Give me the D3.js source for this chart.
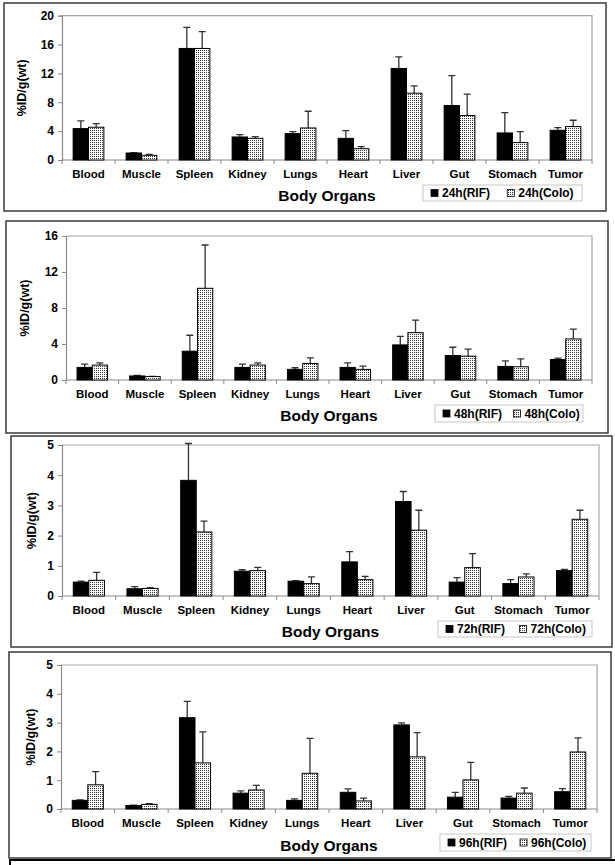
<!DOCTYPE html>
<html><head><meta charset="utf-8">
<script src="https://cdn.jsdelivr.net/npm/d3@7"></script>
<style>
html,body{margin:0;padding:0;background:#fff;}
svg{display:block;}
text{font-family:"Liberation Sans",Arial,sans-serif;font-weight:bold;fill:#000;}
</style></head>
<body>
<svg id="chart" width="615" height="865"></svg>
<script>
// ---- data ----
const categories = ["Blood","Muscle","Spleen","Kidney","Lungs","Heart","Liver","Gut","Stomach","Tumor"];

const rif24     = [4.35, 0.97, 15.46, 3.19, 3.66, 3.00, 12.69, 7.55, 3.75, 4.12];
const rif24Err  = [1.07, 0.05, 2.92, 0.33, 0.28, 1.07, 1.61, 4.15, 2.82, 0.37];
const colo24    = [4.54, 0.65, 15.46, 3.00, 4.44, 1.57, 9.26, 6.16, 2.41, 4.63];
const colo24Err = [0.51, 0.14, 2.32, 0.24, 2.32, 0.28, 1.02, 2.96, 1.53, 0.88];

const rif48     = [1.40, 0.45, 3.20, 1.40, 1.18, 1.40, 3.90, 2.72, 1.51, 2.28];
const rif48Err  = [0.37, 0.07, 1.77, 0.37, 0.18, 0.51, 0.95, 0.92, 0.62, 0.15];
const colo48    = [1.66, 0.38, 10.19, 1.66, 1.84, 1.18, 5.26, 2.65, 1.47, 4.56];
const colo48Err = [0.25, 0.02, 4.81, 0.25, 0.62, 0.36, 1.40, 0.77, 0.88, 1.10];

const rif72     = [0.46, 0.24, 3.83, 0.82, 0.49, 1.13, 3.13, 0.46, 0.41, 0.84];
const rif72Err  = [0.03, 0.07, 1.22, 0.05, 0.02, 0.34, 0.33, 0.15, 0.13, 0.04];
const colo72    = [0.52, 0.25, 2.12, 0.84, 0.41, 0.54, 2.18, 0.94, 0.63, 2.54];
const colo72Err = [0.26, 0.03, 0.36, 0.11, 0.22, 0.11, 0.66, 0.46, 0.10, 0.30];

const rif96     = [0.30, 0.12, 3.17, 0.55, 0.30, 0.58, 2.92, 0.41, 0.38, 0.60];
const rif96Err  = [0.02, 0.01, 0.57, 0.08, 0.05, 0.12, 0.07, 0.17, 0.06, 0.11];
const colo96    = [0.84, 0.16, 1.60, 0.66, 1.24, 0.28, 1.81, 1.01, 0.55, 1.98];
const colo96Err = [0.46, 0.03, 1.08, 0.16, 1.21, 0.10, 0.84, 0.61, 0.18, 0.49];

const ticks24 = [0, 4, 8, 12, 16, 20];
const ticks48 = [0, 4, 8, 12, 16];
const ticks72 = [0, 1, 2, 3, 4, 5];
const ticks96 = [0, 1, 2, 3, 4, 5];

const legend24 = ["24h(RIF)", "24h(Colo)"];
const legend48 = ["48h(RIF)", "48h(Colo)"];
const legend72 = ["72h(RIF)", "72h(Colo)"];
const legend96 = ["96h(RIF)", "96h(Colo)"];

const xTitle = "Body Organs";
const yTitle = "%ID/g(wt)";

// ---- layout (positions only) ----
const panels = [
  {rif:rif24, rifErr:rif24Err, colo:colo24, coloErr:colo24Err, ticks:ticks24, legend:legend24,
   box:[4,3,606,211], plot:[62,592,15.7,160], leg:[423,185,582,201], titleY:196, yLabX:22},
  {rif:rif48, rifErr:rif48Err, colo:colo48, coloErr:colo48Err, ticks:ticks48, legend:legend48,
   box:[6,221,608,433], plot:[66,592,236,380], leg:[435,405,583,422], titleY:416, yLabX:25},
  {rif:rif72, rifErr:rif72Err, colo:colo72, coloErr:colo72Err, ticks:ticks72, legend:legend72,
   box:[11,436,612,647], plot:[62,599,445,596], leg:[438,621,592,637], titleY:632, yLabX:32},
  {rif:rif96, rifErr:rif96Err, colo:colo96, coloErr:colo96Err, ticks:ticks96, legend:legend96,
   box:[9,652,611,858], plot:[61,597,665,809], leg:[440,834,591,851], titleY:846, yLabX:31}
];

const svg = d3.select("#chart");
const defs = svg.append("defs");
const pat = defs.append("pattern").attr("id","dots").attr("patternUnits","userSpaceOnUse")
  .attr("width",2).attr("height",2);
pat.append("rect").attr("width",2).attr("height",2).attr("fill","#fff");
pat.append("rect").attr("width",1).attr("height",1).attr("fill","#333");

svg.append("rect").attr("width",615).attr("height",865).attr("fill","#fff");

panels.forEach(p => {
  const [bx0,by0,bx1,by1] = p.box;
  const [L,R,T,B] = p.plot;
  const g = svg.append("g");

  g.append("rect").attr("x",bx0).attr("y",by0).attr("width",bx1-bx0).attr("height",by1-by0)
    .attr("fill","#fff").attr("stroke","#3a3a3a").attr("stroke-width",1.5);

  const x = d3.scaleBand().domain(categories).range([L,R]);
  const y = d3.scaleLinear().domain([0, d3.max(p.ticks)]).range([B,T]);

  // plot-area frame (top & right)
  g.append("path").attr("d",`M${L},${T}H${R}V${B}`).attr("fill","none")
    .attr("stroke","#a8a8a8").attr("stroke-width",1.2);

  // y axis
  const ya = g.append("g").attr("transform",`translate(${L},0)`)
    .call(d3.axisLeft(y).tickValues(p.ticks).tickFormat(d3.format("d")).tickSize(4).tickPadding(4));
  ya.select(".domain").attr("stroke","#8a8a8a").attr("stroke-width",1.2);
  ya.selectAll(".tick line").attr("stroke","#8a8a8a");
  ya.selectAll("text").attr("font-size",12).attr("font-family","Liberation Sans, Arial").attr("font-weight","bold");

  // x axis
  const bw = x.bandwidth();
  g.append("line").attr("x1",L).attr("x2",R).attr("y1",B).attr("y2",B)
    .attr("stroke","#8a8a8a").attr("stroke-width",1.2);
  g.selectAll(".xt").data(d3.range(categories.length+1)).enter().append("line")
    .attr("x1",i=>L+i*bw).attr("x2",i=>L+i*bw).attr("y1",B).attr("y2",B+4)
    .attr("stroke","#8a8a8a");
  g.selectAll(".cl").data(categories).enter().append("text")
    .attr("x",d=>x(d)+bw/2).attr("y",B+18).attr("text-anchor","middle")
    .attr("font-size",11.5).text(d=>d);

  // bars
  const barW = bw*0.29;
  const series = [
    {vals:p.rif, err:p.rifErr, fill:"#000", off:-barW},
    {vals:p.colo, err:p.coloErr, fill:"url(#dots)", off:0}
  ];
  series.forEach(s => {
    const cx = (d,i)=>x(categories[i])+bw/2+s.off;
    // error bars (upward only)
    g.selectAll(null).data(s.vals).enter().append("path")
      .attr("d",(d,i)=>{
        const xm = cx(d,i)+barW/2, yt = y(d+s.err[i]);
        return `M${xm},${y(d)}V${yt}M${xm-3.5},${yt}H${xm+3.5}`;
      })
      .attr("stroke","#333").attr("stroke-width",1.3).attr("fill","none");
    g.selectAll(null).data(s.vals).enter().append("rect")
      .attr("x",cx).attr("y",d=>y(d)).attr("width",barW).attr("height",d=>B-y(d))
      .attr("fill",s.fill).attr("stroke","#000").attr("stroke-width",1);
  });

  // axis titles
  g.append("text").attr("x",(L+R)/2).attr("y",p.titleY).attr("dy","0.35em")
    .attr("text-anchor","middle").attr("font-size",15.5).text(xTitle);
  g.append("text").attr("transform",`translate(${p.yLabX},${(T+B)/2}) rotate(-90)`)
    .attr("dy","0.35em").attr("text-anchor","middle").attr("font-size",12.5).text(yTitle);

  // legend
  const [lx0,ly0,lx1,ly1] = p.leg;
  const lg = g.append("g");
  lg.append("rect").attr("x",lx0).attr("y",ly0).attr("width",lx1-lx0).attr("height",ly1-ly0)
    .attr("fill","#fff").attr("stroke","#c8c8c8").attr("stroke-width",1);
  const lw = lx1-lx0, lmid = (ly0+ly1)/2;
  const items = [
    {label:p.legend[0], fill:"#000", sx:lx0+8},
    {label:p.legend[1], fill:"url(#dots)", sx:lx0+lw*0.53}
  ];
  items.forEach(it=>{
    lg.append("rect").attr("x",it.sx).attr("y",lmid-3.5).attr("width",7).attr("height",7)
      .attr("fill",it.fill).attr("stroke","#000").attr("stroke-width",0.8);
    lg.append("text").attr("x",it.sx+11).attr("y",lmid).attr("dy","0.36em")
      .attr("font-size",12).text(it.label);
  });
});

// start of the next framed figure at the bottom edge
svg.append("rect").attr("x",10).attr("y",860).attr("width",640).attr("height",40)
  .attr("fill","none").attr("stroke","#000").attr("stroke-width",2);
</script>
</body></html>
